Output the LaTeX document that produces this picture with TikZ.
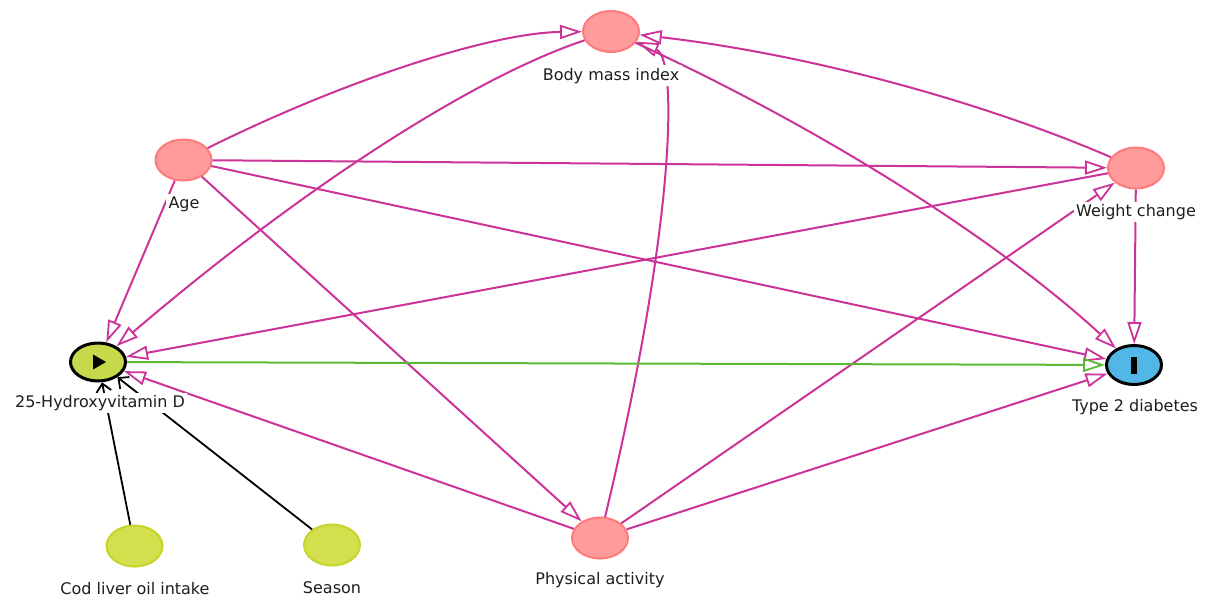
\documentclass[tikz,border=0pt]{standalone}
\usepackage{fontspec}
\setmainfont{DejaVu Sans}
\usetikzlibrary{shapes.geometric,arrows.meta,calc}

\definecolor{edgepink}{HTML}{CC3399}
\definecolor{edgegreen}{HTML}{5DB835}
\definecolor{pinkfill}{HTML}{FF9B9B}
\definecolor{pinkline}{HTML}{FF7B7B}
\definecolor{limefill}{HTML}{D3DF4C}
\definecolor{limeline}{HTML}{C5D52A}
\definecolor{expfill}{HTML}{C5D94A}
\definecolor{outfill}{HTML}{52B6E6}
\definecolor{labeltext}{HTML}{1E1E1E}

% quadratic Bezier edge: start node, control coordinate, end node
\newcommand\qedge[4][]{%
  \draw[#1] (#2) .. controls ($(#2)!2/3!(#3)$) and ($(#4)!2/3!(#3)$) .. (#4);}

\begin{document}
\begin{tikzpicture}[x=1pt,y=-1pt,
  var/.style={ellipse, minimum width=56pt, minimum height=41pt, inner sep=0pt, line width=2pt},
  adj/.style={var, fill=pinkfill, draw=pinkline},
  inst/.style={var, fill=limefill, draw=limeline},
  expo/.style={var, minimum width=55pt, minimum height=38pt, line width=3pt, fill=expfill, draw=black},
  outc/.style={var, minimum width=55pt, minimum height=39pt, line width=3pt, fill=outfill, draw=black},
  lbl/.style={anchor=base, fill=white, inner sep=2.5pt, text=labeltext, font=\fontsize{16}{19}\selectfont},
  causal/.style={draw=edgepink, line width=2pt,
    -{Triangle[open, length=22pt, width=14pt, line width=1.8pt]}},
  mainpath/.style={draw=edgegreen, line width=2pt,
    -{Triangle[open, length=22pt, width=14pt, line width=1.8pt]}},
  instr/.style={draw=black, line width=1.8pt, -{Straight Barb[length=8pt, width=15pt, line width=1.8pt]}}
]
\useasboundingbox (0,0) rectangle (1208,603);

% variables
\node[adj]  (bmi)    at (611,31.5) {};
\node[adj]  (age)    at (183.5,160) {};
\node[adj]  (wc)     at (1136,168) {};
\node[adj]  (pa)     at (600,538) {};
\node[inst] (cod)    at (134.5,546) {};
\node[inst] (season) at (332,545) {};
\node[expo] (exp)    at (98,362) {};
\node[outc] (t2d)    at (1134,365) {};

% control points of the curved edges
\coordinate (cAgeBmi) at (440,33);
\coordinate (cBmiExp) at (405,100);
\coordinate (cWcBmi)  at (895,64);
\coordinate (cBmiT2d) at (930,178);
\coordinate (cPaBmi)  at (712,72);

% curved edges
\qedge[causal]{age}{cAgeBmi}{bmi}
\qedge[causal]{bmi}{cBmiExp}{exp}
\qedge[causal]{wc}{cWcBmi}{bmi}
\qedge[causal]{bmi}{cBmiT2d}{t2d}
\qedge[causal]{pa}{cPaBmi}{bmi}

% straight edges
\draw[causal] (age) -- (wc);
\draw[causal] (age) -- (t2d);
\draw[causal] (age) -- (pa);
\draw[causal] (age) -- (exp);
\draw[causal] (wc) -- (exp);
\draw[causal] (wc) -- (t2d);
\draw[causal] (pa) -- (wc);
\draw[causal] (pa) -- (t2d);
\draw[causal] (pa) -- (exp);
\draw[mainpath] (exp) -- (t2d);
\draw[instr] (cod) -- (exp);
\draw[instr] (season) -- (exp);

% labels
\node[lbl] (bmiL)    at (611,80)    {Body mass index};
\node[lbl] (ageL)    at (184,208.5) {Age};
\node[lbl] (wcL)     at (1136,216.5) {Weight change};
\node[lbl] (paL)     at (600,584)   {Physical activity};
\node[lbl] (codL)    at (135,594.5) {Cod liver oil intake};
\node[lbl] (seasonL) at (332,593)   {Season};
\node[lbl] (expL)    at (100,407.5) {25-Hydroxyvitamin D};
\node[lbl] (t2dL)    at (1135,411.5) {Type 2 diabetes};

% exposure and outcome marks
\fill ($(exp.center)+(-5,-7.5)$) -- ($(exp.center)+(-5,7.5)$) -- ($(exp.center)+(8,0)$) -- cycle;
\fill ($(t2d.center)+(-3,-8.5)$) rectangle ($(t2d.center)+(3,8.5)$);
\end{tikzpicture}
\end{document}
